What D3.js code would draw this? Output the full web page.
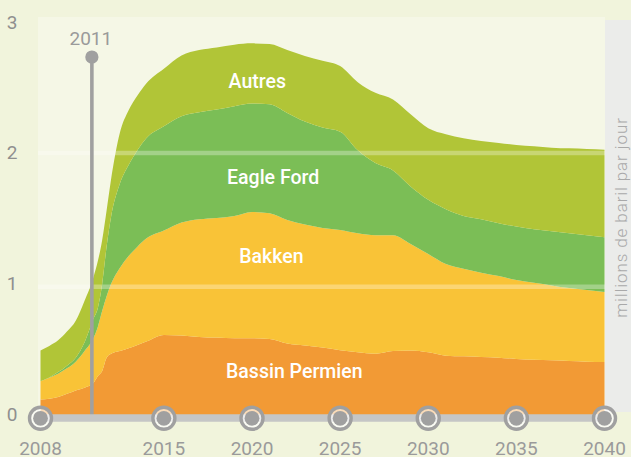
<!DOCTYPE html>
<html>
<head>
<meta charset="utf-8">
<script src="https://cdn.jsdelivr.net/npm/d3@7"></script>
<style>
  html, body { margin: 0; padding: 0; background: #f1f4dc; }
  svg { display: block; font-family: Roboto, "Noto Sans", sans-serif; }
</style>
</head>
<body>
<svg id="chart" width="631" height="457"></svg>
<script>
// Production de pétrole de schiste (millions de baril par jour)
const years = [2008, 2008.5, 2009, 2009.5, 2010, 2010.5, 2011, 2011.25, 2011.5, 2011.75,
  2012, 2012.5, 2013, 2013.5, 2014, 2015, 2016, 2017, 2018, 2019, 2020, 2021, 2022,
  2023, 2024, 2025, 2026, 2027, 2028, 2029, 2030, 2031, 2032, 2033, 2034, 2035, 2036,
  2037, 2038, 2039, 2040];

const permien = [.157, .162, .175, .20, .225, .245, .28, .33, .37, .47,
  .50, .52, .54, .565, .59, .64, .635, .625, .62, .615, .615, .61, .575,
  .56, .545, .525, .51, .50, .52, .524, .51, .485, .48, .475, .47, .46, .455,
  .45, .445, .44, .437];

const bakken = [.137, .158, .175, .19, .215, .275, .335, .37, .45, .46,
  .52, .62, .69, .735, .77, .78, .845, .88, .895, .915, .945, .94, .925,
  .905, .895, .90, .89, .886, .866, .796, .735, .685, .655, .63, .61, .59, .575,
  .56, .545, .535, .523];

const eagleFord = [0, .002, .012, .02, .03, .065, .145, .14, .20, .37,
  .50, .63, .68, .72, .75, .78, .795, .80, .81, .82, .81, .815, .80,
  .77, .75, .735, .62, .539, .484, .43, .405, .41, .395, .40, .395, .40, .40,
  .405, .41, .41, .41];

const autres = [.23, .236, .238, .255, .275, .31, .31, .35, .33, .27,
  .28, .38, .41, .41, .41, .43, .455, .465, .465, .46, .45, .45, .47,
  .49, .50, .49, .51, .525, .53, .54, .535, .56, .58, .585, .60, .61, .62,
  .625, .635, .645, .655];

const seriesKeys = ['permien', 'bakken', 'eagleFord', 'autres'];
const seriesColors = ['#f29a35', '#f9c337', '#7bbe56', '#b1c537'];
const seriesLabels = [
  { text: 'Bassin Permien', year: 2022.4, value: 0.32 },
  { text: 'Bakken',         year: 2021.1, value: 1.18 },
  { text: 'Eagle Ford',     year: 2021.2, value: 1.77 },
  { text: 'Autres',         year: 2020.3, value: 2.49 },
];

const xTicks = [2008, 2015, 2020, 2025, 2030, 2035, 2040];
const yTicks = [0, 1, 2, 3];
const markerYear = 2011;
const yTitle = 'millions de baril par jour';

const rows = years.map((yr, i) => ({
  year: yr, permien: permien[i], bakken: bakken[i], eagleFord: eagleFord[i], autres: autres[i]
}));

const svg = d3.select('#chart');
const W = 631, H = 457;

const x = d3.scaleLinear().domain([2008, 2040]).range([40.5, 604.5]);
const y = d3.scaleLinear().domain([0, 3]).range([420.5, 19.3]);
const yLbl = d3.scaleLinear().domain([0, 3]).range([420.5, 28.5]);

// backgrounds
svg.append('rect').attr('width', W).attr('height', H).attr('fill', '#f1f4dc');
svg.append('rect')
  .attr('x', 38).attr('y', 17).attr('width', 605 - 38).attr('height', 418 - 17)
  .attr('fill', '#f5f7e6');

// stacked areas
const stack = d3.stack().keys(seriesKeys);
const layers = stack(rows);
const area = d3.area()
  .x(d => x(d.data.year))
  .y0(d => y(d[0]))
  .y1(d => y(d[1]))
  .curve(d3.curveMonotoneX);

svg.append('g').selectAll('path')
  .data(layers).enter().append('path')
  .attr('d', area)
  .attr('fill', (d, i) => seriesColors[i]);

// grid lines on top of areas
svg.append('g').selectAll('line')
  .data([1, 2]).enter().append('line')
  .attr('x1', 38).attr('x2', 605)
  .attr('y1', d => y(d)).attr('y2', d => y(d))
  .attr('stroke', '#fff').attr('stroke-opacity', 0.3).attr('stroke-width', 4.5);

// right title band
svg.append('rect')
  .attr('x', 605).attr('y', 20).attr('width', W - 605).attr('height', 392)
  .attr('fill', '#ebecea');
svg.append('text')
  .attr('transform', 'translate(627,217.5) rotate(-90)')
  .attr('text-anchor', 'middle')
  .attr('fill', '#a9a9a9')
  .style('font-size', '17px')
  .style('font-weight', 300)
  .style('letter-spacing', '0.9px')
  .text(yTitle);

// series labels
svg.append('g').selectAll('text')
  .data(seriesLabels).enter().append('text')
  .attr('x', d => x(d.year)).attr('y', d => y(d.value))
  .attr('text-anchor', 'middle')
  .attr('fill', '#fff')
  .style('font-size', '19.5px')
  .style('font-weight', 500)
  .text(d => d.text);

// 2011 marker
const mx = x(markerYear) - 1.5;
svg.append('line')
  .attr('x1', mx).attr('x2', mx).attr('y1', 57).attr('y2', 416)
  .attr('stroke', '#a0a0a0').attr('stroke-width', 3.6);
svg.append('circle').attr('cx', mx).attr('cy', 57).attr('r', 6.6).attr('fill', '#a0a0a0');
svg.append('text')
  .attr('x', mx - 1).attr('y', 45)
  .attr('text-anchor', 'middle')
  .attr('fill', '#9a9a9a')
  .style('font-size', '19px')
  .text(markerYear);

// x axis bar + tick circles
svg.append('line')
  .attr('x1', x(2008)).attr('x2', x(2040)).attr('y1', 418).attr('y2', 418)
  .attr('stroke', '#c5c6c6').attr('stroke-width', 7.5);

const ticks = svg.append('g').selectAll('g')
  .data(xTicks).enter().append('g')
  .attr('transform', d => `translate(${x(d)},418.3)`);
ticks.append('circle').attr('r', 11)
  .attr('fill', '#ffffff').attr('fill-opacity', 0.65)
  .attr('stroke', '#a0a0a0').attr('stroke-width', 3.4);
ticks.append('circle').attr('r', 7.4).attr('fill', '#a0a0a0');
ticks.append('text')
  .attr('y', 37).attr('text-anchor', 'middle')
  .attr('fill', '#9a9a9a')
  .style('font-size', '19px')
  .text(d => d);

// y labels
svg.append('g').selectAll('text')
  .data(yTicks).enter().append('text')
  .attr('x', 12).attr('y', d => yLbl(d))
  .attr('text-anchor', 'middle')
  .attr('fill', '#8f8f8f')
  .style('font-size', '19px')
  .text(d => d);
</script>
</body>
</html>
